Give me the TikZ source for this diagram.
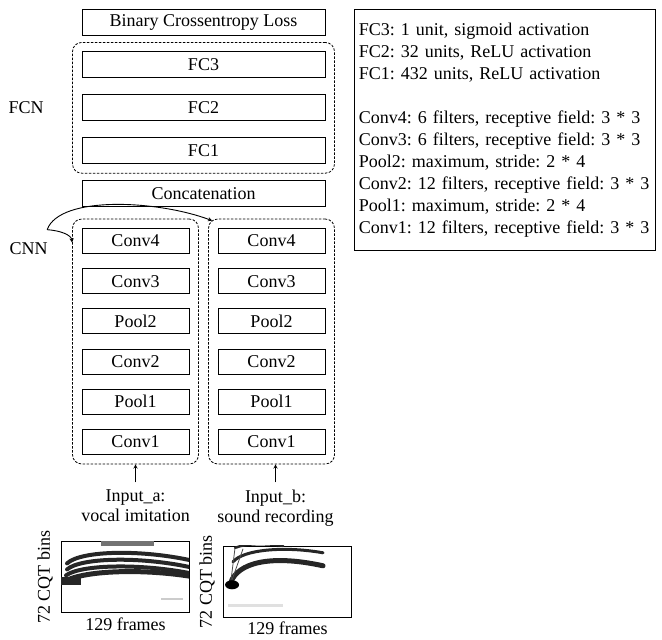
\documentclass[tikz,border=0pt]{standalone}
\usepackage{fontspec}
\setmainfont{Liberation Serif}
\usetikzlibrary{arrows, positioning, fit}
\tikzstyle{densebox} = [rectangle, line width=0.9pt, minimum width=243pt, minimum height=26pt, inner sep=0pt, text centered, draw=black]
\tikzstyle{convbox} = [rectangle, line width=0.9pt, minimum width=107pt, minimum height=25pt, inner sep=0pt, text centered, draw=black]
\tikzstyle{groupbox} = [rectangle, line width=0.8pt, dash pattern=on 2.5pt off 1.5pt, rounded corners=9pt, inner sep=9pt, draw=black]
\tikzstyle{specbox} = [rectangle, line width=0.9pt, minimum width=128pt, minimum height=71pt, inner sep=0pt, draw=black]
\tikzstyle{band} = [line width=4pt, black!85, line cap=round]
\tikzstyle{arrow} = [line width=0.9pt,->,>=stealth]

\begin{document}
\frenchspacing
\begin{tikzpicture}[x=1pt, y=-1pt, node distance = 16pt, font=\fontsize{18}{22}\selectfont]
		\useasboundingbox (0,0) rectangle (662,640);
		\node (Loss) [densebox] at (203.5,22) {Binary Crossentropy Loss};
		\node (Dense03) [densebox, below = of Loss] {FC3};
		\node (Dense02) [densebox, below = of Dense03] {FC2};
		\node (Dense01) [densebox, below = of Dense02] {FC1};
		\node (Concat) [densebox, below = of Dense01] {Concatenation};

		\node (ConvA04) [convbox, below right = 21pt and 0pt of Concat.south west] {Conv4};
		\node (ConvA03) [convbox, below = 14.3pt of ConvA04] {Conv3};
		\node (PoolA02) [convbox, below = 14.3pt of ConvA03] {Pool2};
		\node (ConvA02) [convbox, below = 14.3pt of PoolA02] {Conv2};
		\node (PoolA01) [convbox, below = 14.3pt of ConvA02] {Pool1};
		\node (ConvA01) [convbox, below = 14.3pt of PoolA01] {Conv1};

		\node (ConvB04) [convbox, below left = 21pt and 0pt of Concat.south east] {Conv4};
		\node (ConvB03) [convbox, below = 14.3pt of ConvB04] {Conv3};
		\node (PoolB02) [convbox, below = 14.3pt of ConvB03] {Pool2};
		\node (ConvB02) [convbox, below = 14.3pt of PoolB02] {Conv2};
		\node (PoolB01) [convbox, below = 14.3pt of ConvB02] {Pool1};
		\node (ConvB01) [convbox, below = 14.3pt of PoolB01] {Conv1};

		\node (GroupFCN) [groupbox, fit = (Dense03) (Dense01)] {};
		\node (GroupA) [groupbox, fit = (ConvA04) (ConvA01)] {};
		\node (GroupB) [groupbox, fit = (ConvB04) (ConvB01)] {};

		\node (LabelFCN) [left = 25pt of GroupFCN] {FCN};
		\node (LabelCNN) [below left = 20pt and 21pt of GroupA.north west] {CNN};
		\coordinate (Fork) at ([shift={(-4pt,9pt)}]LabelCNN.north east);

		\node (InputA) [below = 22pt of GroupA, align=center] {Input\_a:\\[-2pt]vocal imitation};
		\node (InputB) [below = 22pt of GroupB, xshift=4pt, align=center] {Input\_b:\\[-2pt]sound recording};

		\node (SpecA) [specbox, below = 16pt of InputA, xshift=-10pt] {};
		\node (SpecB) [specbox, below = 16pt of InputB, xshift=12pt] {};
		\node (BinsA) [rotate=90, anchor=south, inner sep=0pt] at ([xshift=-8pt]SpecA.west) {72 CQT bins};
		\node (BinsB) [rotate=90, anchor=south, inner sep=0pt] at ([xshift=-8pt]SpecB.west) {72 CQT bins};
		\node (FramesA) [below = 4pt of SpecA, inner sep=0pt] {129 frames};
		\node (FramesB) [below = 4pt of SpecB, inner sep=0pt] {129 frames};

		\node (Notes) [draw=black, line width=0.9pt, anchor=north west, align=left, text width=292pt, inner xsep=4.5pt, inner ysep=13.5pt] at (354,9) {FC3: 1 unit, sigmoid activation\\FC2: 32 units, ReLU activation\\FC1: 432 units, ReLU activation\\[22pt]Conv4: 6 filters, receptive field: 3 * 3\\Conv3: 6 filters, receptive field: 3 * 3\\Pool2: maximum, stride: 2 * 4\\Conv2: 12 filters, receptive field: 3 * 3\\Pool1: maximum, stride: 2 * 4\\Conv1: 12 filters, receptive field: 3 * 3};

		% vocal imitation spectrogram
		\begin{scope}[shift={(SpecA.north west)}]
			\clip (0,0) rectangle (128,71);
			\fill [black!55] (40,0) rectangle (93,5);
			\draw [band] (6,22) .. controls (20,9) and (80,8) .. (130,19);
			\draw [band] (6,28) .. controls (20,16) and (80,15) .. (130,26);
			\draw [band] (5,34) .. controls (20,23) and (80,22) .. (130,32);
			\draw [band, line width=5pt] (2,41) .. controls (20,29) and (80,27) .. (130,35);
			\fill [black!85] (0,36) rectangle (20,44);
			\draw [black!20, line width=2pt] (100,58) -- (122,58);
		\end{scope}
		% sound recording spectrogram
		\begin{scope}[shift={(SpecB.north west)}]
			\clip (0,0) rectangle (128,71);
			\draw [band, line width=5pt] (8,36) .. controls (15,18) and (45,8) .. (100,20);
			\draw [band, line width=3pt] (10,16) .. controls (20,4) and (60,0) .. (100,7);
			\draw [band, line width=2.5pt] (12,2) .. controls (25,-3) and (45,-2) .. (60,0);
			\draw [black!70, line width=0.8pt] (8,34) -- (12,2);
			\draw [black!70, line width=0.8pt] (9,34) -- (20,3);
			\fill [black] (9,39) ellipse (7pt and 4.5pt);
			\draw [black!12, line width=3pt] (5,60) -- (60,60);
		\end{scope}

		\draw [arrow] (Fork) .. controls +(13pt,35pt) and +(-53pt,20pt) .. ([xshift=4pt, yshift=-2pt]GroupB.north west);
		\draw [arrow] (Fork) .. controls +(13pt,-1pt) and +(-1pt,8pt) .. ([yshift=-24pt]GroupA.north west);
		\draw [arrow, shorten <=4pt] (InputA) -- (InputA |- GroupA.south);
		\draw [arrow, shorten <=4pt] (InputB) -- (InputB |- GroupB.south);
	\end{tikzpicture}
\end{document}
